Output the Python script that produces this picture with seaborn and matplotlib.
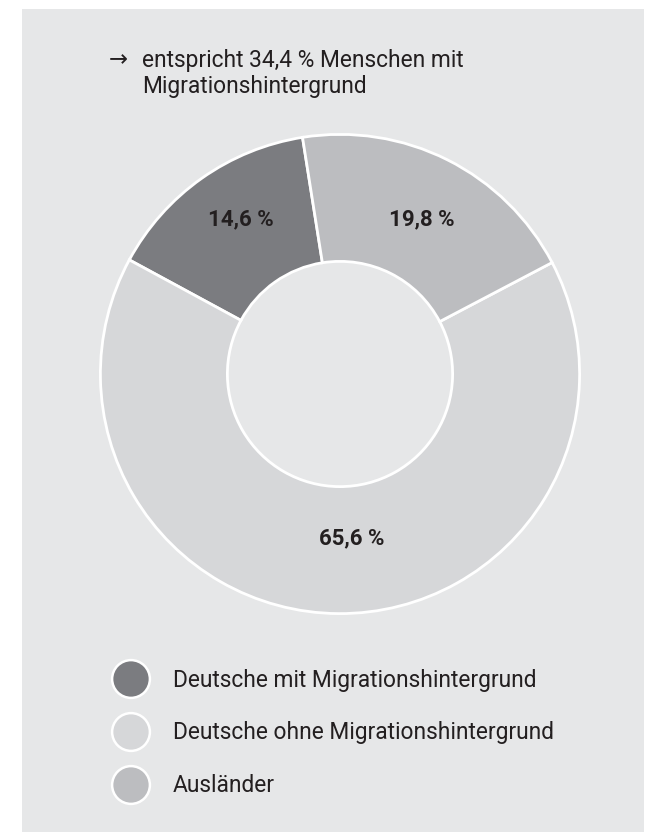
import matplotlib
matplotlib.use("Agg")
import matplotlib.pyplot as plt
import seaborn as sns
import pandas as pd
import numpy as np
from matplotlib.patches import Rectangle

categories = ["Deutsche mit Migrationshintergrund",
              "Deutsche ohne Migrationshintergrund",
              "Ausländer"]
shares = [14.6, 65.6, 19.8]
labels = ["14,6 %", "65,6 %", "19,8 %"]
colors = ["#7b7c80", "#d6d7d9", "#bcbdc0"]
note_lines = ["entspricht 34,4 % Menschen mit", "Migrationshintergrund"]

sns.set_style("white")
plt.rcParams["font.family"] = ["Roboto", "DejaVu Sans"]

W, H = 659, 832
fig = plt.figure(figsize=(W / 100, H / 100), dpi=100)
fig.patch.set_facecolor("white")
bg = "#e6e7e8"
txt = "#231f20"
fs = 16.4

# full-figure overlay axes in pixel coordinates
ov = fig.add_axes([0, 0, 1, 1])
ov.set_zorder(1)
ov.patch.set_alpha(0)
ov.add_patch(Rectangle((22, 9), 644 - 22, 832 - 9, facecolor=bg,
                       edgecolor="none", zorder=0))

# legend via seaborn scatter
leg = pd.DataFrame({"cat": categories,
                    "x": [131] * 3,
                    "y": [679 + 53 * i for i in range(3)]})
sns.scatterplot(data=leg, x="x", y="y", hue="cat", palette=colors,
                s=740, edgecolor="white", linewidth=1.8, ax=ov, legend=False,
                zorder=5)
for i, c in enumerate(categories):
    ov.text(173, 680 + 53 * i, c, ha="left", va="center", fontsize=fs,
            color=txt)

# note text
ov.text(109, 60, "\u2192", ha="left", va="center", fontsize=fs, color=txt,
        family=["DejaVu Sans"])
for i, line in enumerate(note_lines):
    ov.text(142, 60 + 27 * i, line, ha="left", va="center", fontsize=fs,
            color=txt)

ov.set_xlim(0, W)
ov.set_ylim(H, 0)
ov.set_xlabel("")
ov.set_ylabel("")
ov.axis("off")

# donut
cx, cy, R = 340, 374, 242
ax = fig.add_axes([(cx - R) / W, (H - cy - R) / H, 2 * R / W, 2 * R / H])
ax.set_zorder(2)
ax.patch.set_alpha(0)
wedges, _ = ax.pie(shares, colors=colors, startangle=99, counterclock=True,
                   radius=1.0,
                   wedgeprops=dict(width=0.53, edgecolor="white", linewidth=2))
ax.set_xlim(-1.01, 1.01)
ax.set_ylim(-1.01, 1.01)
ax.set_aspect("equal")
ax.axis("off")
offs = [(0.014, 0.041), (0.054, 0.054), (0.011, -0.016)]
for w, lab, (dx, dy) in zip(wedges, labels, offs):
    ang = np.deg2rad((w.theta1 + w.theta2) / 2)
    ax.text(0.74 * np.cos(ang) + dx, 0.74 * np.sin(ang) + dy, lab,
            ha="center", va="center", fontsize=16, fontweight="bold",
            color=txt)

fig.savefig("out.png", dpi=100, facecolor="white")
